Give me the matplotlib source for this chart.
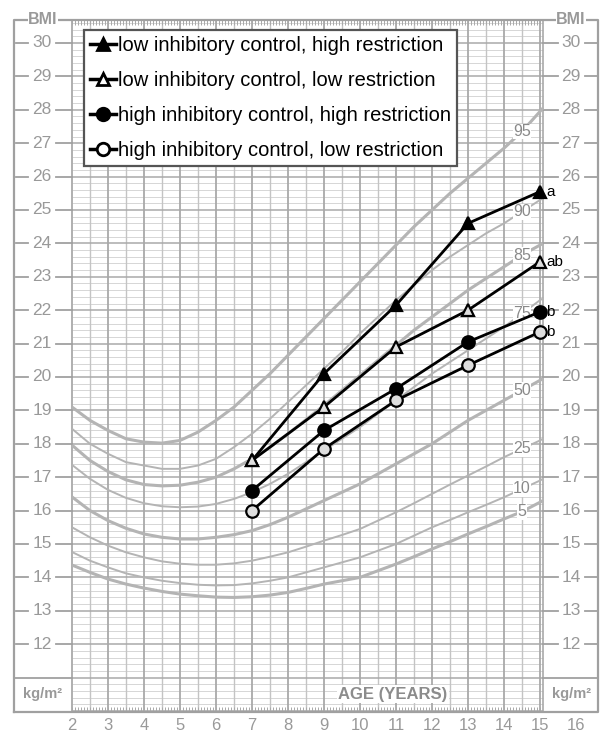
import numpy as np
import matplotlib.pyplot as plt
from matplotlib.lines import Line2D

plt.rcParams['font.family'] = ['Liberation Sans', 'DejaVu Sans']

# percentile curves (BMI, kg/m2) at half-year steps
ages = [2, 2.5, 3, 3.5, 4, 4.5, 5, 5.5, 6, 6.5, 7, 7.5, 8, 8.5, 9, 9.5,
        10, 10.5, 11, 11.5, 12, 12.5, 13, 13.5, 14, 14.5, 15, 15.08]
p95 = [19.1, 18.7, 18.4, 18.15, 18.05, 18.02, 18.1, 18.35, 18.7, 19.1, 19.6, 20.1,
       20.65, 21.2, 21.75, 22.3, 22.85, 23.4, 23.95, 24.5, 25.0, 25.5, 25.95, 26.4,
       26.85, 27.35, 27.95, 28.05]
p90 = [18.45, 18.0, 17.7, 17.45, 17.35, 17.25, 17.25, 17.35, 17.55, 17.9, 18.3, 18.75,
       19.25, 19.75, 20.25, 20.75, 21.3, 21.8, 22.3, 22.75, 23.2, 23.6, 23.95, 24.3,
       24.6, 24.95, 25.3, 25.35]
p85 = [17.96, 17.5, 17.17, 16.92, 16.78, 16.74, 16.76, 16.85, 17.0, 17.25, 17.55, 17.9,
       18.3, 18.72, 19.15, 19.6, 20.05, 20.5, 20.95, 21.4, 21.8, 22.2, 22.6, 22.95,
       23.3, 23.65, 23.95, 24.0]
p75 = [17.37, 16.95, 16.62, 16.38, 16.22, 16.13, 16.1, 16.12, 16.2, 16.35, 16.55, 16.8,
       17.1, 17.45, 17.8, 18.15, 18.5, 18.9, 19.3, 19.7, 20.1, 20.45, 20.8, 21.15,
       21.5, 21.9, 22.3, 22.35]
p50 = [16.41, 16.0, 15.7, 15.47, 15.3, 15.2, 15.15, 15.15, 15.2, 15.28, 15.4, 15.58,
       15.8, 16.05, 16.3, 16.55, 16.8, 17.1, 17.4, 17.7, 18.0, 18.35, 18.7, 19.0,
       19.3, 19.6, 19.9, 19.95]
p25 = [15.5, 15.2, 14.95, 14.75, 14.6, 14.48, 14.41, 14.38, 14.38, 14.42, 14.5, 14.62,
       14.75, 14.92, 15.1, 15.27, 15.45, 15.7, 15.95, 16.22, 16.5, 16.78, 17.05, 17.32,
       17.6, 17.85, 18.1, 18.15]
p10 = [14.76, 14.5, 14.3, 14.12, 14.0, 13.9, 13.83, 13.78, 13.76, 13.77, 13.82, 13.9,
       14.0, 14.15, 14.3, 14.45, 14.6, 14.8, 15.0, 15.25, 15.5, 15.72, 15.95, 16.17,
       16.4, 16.65, 16.9, 16.95]
p5 = [14.37, 14.15, 13.95, 13.8, 13.68, 13.58, 13.5, 13.45, 13.41, 13.4, 13.42, 13.47,
      13.55, 13.67, 13.8, 13.9, 14.0, 14.2, 14.4, 14.62, 14.85, 15.07, 15.3, 15.52,
      15.75, 15.97, 16.25, 16.3]
curves = [p95, p90, p85, p75, p50, p25, p10, p5]
curve_names = ['95', '90', '85', '75', '50', '25', '10', '5']
thick = [True, False, True, False, True, False, False, True]

# study groups
study_ages = [7, 9, 11, 13, 15]
lo_ic_hi_r = [17.5, 20.1, 22.15, 24.6, 25.55]
lo_ic_lo_r = [17.5, 19.1, 20.9, 22.0, 23.45]
hi_ic_hi_r = [16.6, 18.4, 19.65, 21.05, 21.95]
hi_ic_lo_r = [16.0, 17.85, 19.3, 20.35, 21.35]
groups = ['low inhibitory control, high restriction',
          'low inhibitory control, low restriction',
          'high inhibitory control, high restriction',
          'high inhibitory control, low restriction']
sig = ['a', 'ab', 'b', 'b']

bmi_ticks = list(range(12, 31))
age_ticks = list(range(2, 17))

GRID_MAJ = '#a9a9a9'
GRID_MIN = '#d6d6d6'
TXT = '#999999'
FRAME = '#a0a0a0'


def px_x(px):
    return 2 + (px - 72) / 36.0


def px_y(py):
    return 30 - (py - 43) / 33.4


fig = plt.figure(figsize=(6.12, 7.38), dpi=100)
ax = fig.add_axes([14 / 612, 1 - 712 / 738, 584 / 612, 692 / 738])
x0, x1 = px_x(14), px_x(598)
y0, y1 = px_y(712), px_y(20)
ax.set_xlim(x0, x1)
ax.set_ylim(y0, y1)
ax.axis('off')

xend = 15.08
# grid
for b in np.arange(10, 30.61, 0.2):
    if abs(b - round(b)) > 0.01:
        ax.hlines(b, 2, xend, color=GRID_MIN, lw=0.7, zorder=1)
for b in range(10, 31):
    ax.hlines(b, 2, xend, color=GRID_MAJ, lw=1.1, zorder=1.2)
for a in np.arange(2.5, 15, 1.0):
    ax.vlines(a, y0, y1, color='#c4c4c4', lw=1.0, zorder=1.1)
for a in range(2, 16):
    ax.vlines(a, y0, y1, color=GRID_MAJ, lw=1.3, zorder=1.2)
ax.vlines(xend, y0, y1, color=GRID_MAJ, lw=1.2, zorder=1.2)
# month ticks
for m in np.arange(2, 15.001, 1 / 12):
    ax.vlines(m, y0, y0 + 0.15, color=GRID_MAJ, lw=0.7, zorder=1.2)
    ax.vlines(m, y1 - 0.15, y1, color=GRID_MAJ, lw=0.7, zorder=1.2)

# frame and side panels
ax.plot([x0, x1, x1, x0, x0], [y0, y0, y1, y1, y0], color=FRAME, lw=1.6,
        clip_on=False, zorder=2)
ax.plot([x0, 2], [11, 11], color=FRAME, lw=1.3, zorder=2)
ax.plot([xend, x1], [11, 11], color=FRAME, lw=1.3, zorder=2)
for b in bmi_ticks:
    ax.text(px_x(42), b, str(b), ha='center', va='center', fontsize=12.5, color=TXT)
    ax.plot([px_x(16), px_x(28)], [b, b], color=FRAME, lw=1.3)
    ax.plot([px_x(56), 2], [b, b], color=FRAME, lw=1.3)
    ax.text(px_x(571), b, str(b), ha='center', va='center', fontsize=12.5, color=TXT)
    ax.plot([xend, px_x(558)], [b, b], color=FRAME, lw=1.3)
    ax.plot([px_x(585), px_x(597)], [b, b], color=FRAME, lw=1.3)
for xc in (px_x(43), px_x(571)):
    ax.text(xc, y1, 'BMI', ha='center', va='center', fontsize=11.5,
            fontweight='bold', color=TXT, zorder=3,
            bbox=dict(facecolor='white', edgecolor='none', pad=0.5))
ax.text(px_x(43), 10.5, 'kg/m²', ha='center', va='center', fontsize=10.5,
        fontweight='bold', color=TXT)
ax.text(px_x(572), 10.5, 'kg/m²', ha='center', va='center', fontsize=10.5,
        fontweight='bold', color=TXT)
ax.text(px_x(393), 10.5, 'AGE (YEARS)', ha='center', va='center', fontsize=12,
        fontweight='bold', color='#8c8c8c', zorder=3,
        bbox=dict(facecolor='white', edgecolor='none', pad=1))
for a in age_ticks:
    ax.text(a, px_y(726), str(a), ha='center', va='center', fontsize=12, color=TXT)

# percentile curves
i_lab = ages.index(14.5)
for vals, name, tk in zip(curves, curve_names, thick):
    ax.plot(ages, vals, color='#b4b4b4', lw=2.2 if tk else 1.4, zorder=3,
            solid_capstyle='butt')
    ax.text(14.5, vals[i_lab], name, ha='center', va='center', fontsize=11.5,
            color='#8a8a8a', zorder=4,
            bbox=dict(facecolor='white', edgecolor='none', pad=0.3))

# study groups
series = [lo_ic_hi_r, lo_ic_lo_r, hi_ic_hi_r, hi_ic_lo_r]
markers = ['^', '^', 'o', 'o']
fills = ['black', '#dedede', 'black', '#dedede']
handles = []
for vals, mk, fc, s in zip(series, markers, fills, sig):
    ax.plot(study_ages, vals, color='black', lw=2, marker=mk, markersize=9,
            markerfacecolor=fc, markeredgecolor='black', markeredgewidth=1.6,
            zorder=6)
    ax.text(15.17, vals[-1], s, ha='left', va='center', fontsize=11, zorder=6)
    handles.append(Line2D([], [], color='black', lw=2.5, marker=mk, markersize=9,
                          markerfacecolor='black' if fc == 'black' else 'white',
                          markeredgecolor='black', markeredgewidth=2))

leg = ax.legend(handles, groups, loc='upper left',
                bbox_to_anchor=(84 / 612, 1 - 30 / 738),
                bbox_transform=fig.transFigure, fontsize=14.5, frameon=True,
                fancybox=False, edgecolor='#555555', framealpha=1,
                borderpad=0.3, labelspacing=0.8, handlelength=1.3,
                handletextpad=0.1, borderaxespad=0)
leg.get_frame().set_linewidth(1.6)
leg.set_zorder(10)

fig.savefig('out.png', dpi=100)
